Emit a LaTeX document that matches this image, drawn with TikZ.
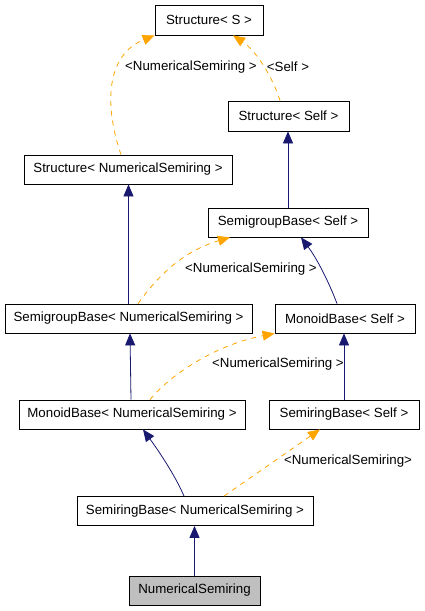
\documentclass[tikz,border=0pt]{standalone}
\usepackage{fontspec}
\setmainfont{Liberation Sans}
\usetikzlibrary{arrows.meta}
\definecolor{navy}{HTML}{191970}
\definecolor{orng}{HTML}{FFA500}
\definecolor{grayfill}{HTML}{BFBFBF}
\begin{document}
\begin{tikzpicture}[x=1pt,y=-1pt, font=\fontsize{13.3}{16}\selectfont,
  box/.style={draw, line width=0.8pt, inner sep=0pt, minimum height=29pt, anchor=center},
  inh/.style={navy, line width=0.8pt, -{Triangle[length=12pt,width=10pt]}},
  tmpl/.style={orng, line width=0.8pt, dash pattern=on 5pt off 5pt, -{Triangle[length=12pt,width=10pt]}},
  lbl/.style={inner sep=0pt}]
\useasboundingbox (0,0) rectangle (424,611);
% nodes
\node[box, minimum width=108pt, minimum height=30pt] (sS) at (209,20) {Structure< S >};
\node[box, minimum width=121pt, minimum height=30pt] (sSelf) at (288.5,116) {Structure< Self >};
\node[box, minimum width=208pt] (sNS) at (128,169.5) {Structure< NumericalSemiring >};
\node[box, minimum width=160pt] (gSelf) at (288,222.5) {SemigroupBase< Self >};
\node[box, minimum width=247pt] (gNS) at (128.5,318.5) {SemigroupBase< NumericalSemiring >};
\node[box, minimum width=140pt] (mSelf) at (345,318.5) {MonoidBase< Self >};
\node[box, minimum width=226pt] (mNS) at (132,414.5) {MonoidBase< NumericalSemiring >};
\node[box, minimum width=150pt] (rSelf) at (344,414.5) {SemiringBase< Self >};
\node[box, minimum width=236pt] (rNS) at (195,511) {SemiringBase< NumericalSemiring >};
\node[box, minimum width=131pt, fill=grayfill] (ns) at (194.5,590.5) {NumericalSemiring};
% labels
\node[lbl] (l1) at (191,67) {<NumericalSemiring >};
\node[lbl] (l2) at (288,67) {<Self >};
\node[lbl] (l3) at (251,269) {<NumericalSemiring >};
\node[lbl] (l4) at (278,364) {<NumericalSemiring >};
\node[lbl] (l5) at (348,461) {<NumericalSemiring>};
% template edges
\draw[tmpl] ([xshift=-7pt]sNS.north) .. controls (104,105) and (106,55) .. (sS.south west);
\draw[tmpl] ([xshift=-8.5pt]sSelf.north) .. controls (272,75) and (255,50) .. ([xshift=24pt]sS.south);
\draw[tmpl] ([xshift=9.5pt]gNS.north) .. controls (155,280) and (180,252) .. ([xshift=-58pt]gSelf.south);
\draw[tmpl] ([xshift=18pt]mNS.north) .. controls (170,375) and (215,345) .. (mSelf.south west);
\draw[tmpl] ([xshift=29pt]rNS.north) -- ([xshift=-24pt]rSelf.south);
% inheritance edges
\draw[inh] (gNS.north) -- (gNS.north |- sNS.south);
\draw[inh] (gSelf.north) -- (gSelf.north |- sSelf.south);
\draw[inh] ([xshift=-8pt]mSelf.north) .. controls (330,285) and (318,260) .. ([xshift=13pt]gSelf.south);
\draw[inh] ([xshift=-1pt]mNS.north) -- ([xshift=1.5pt]gNS.south);
\draw[inh] (rSelf.north) -- (rSelf.north |- mSelf.south);
\draw[inh] ([xshift=-11pt]rNS.north) .. controls (175,475) and (158,450) .. ([xshift=11pt]mNS.south);
\draw[inh] (ns.north) -- (ns.north |- rNS.south);
\end{tikzpicture}
\end{document}
